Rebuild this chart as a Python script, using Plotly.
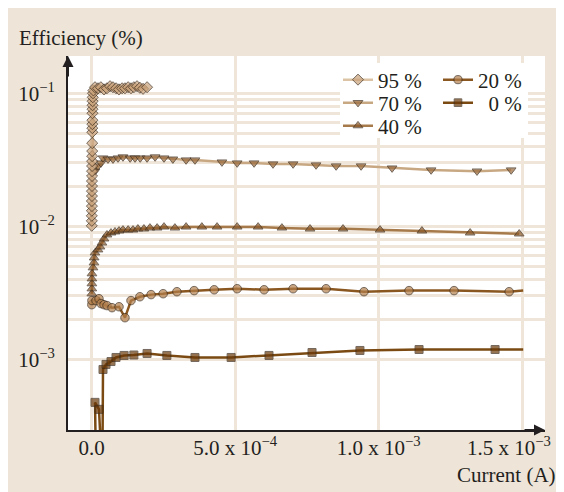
import plotly.graph_objects as go

# ---------------- data (current in A, efficiency in %) ----------------
cur_95 = [3e-7, 5e-7, 4e-7, 6e-7, 8e-7, 7e-7, 9e-7, 1.0e-6, 1.1e-6, 1.0e-6,
          1.2e-6, 1.3e-6, 1.4e-6, 1.5e-6, 1.6e-6, 1.7e-6, 1.8e-6, 2.0e-6, 2.1e-6, 2.2e-6,
          2.4e-6, 2.6e-6, 2.8e-6, 3.0e-6, 3.3e-6, 3.7e-6, 4.5e-6, 6.0e-6,
          1.15e-5, 2.2e-5, 3.2e-5, 4.3e-5, 5.3e-5, 6.4e-5, 7.4e-5, 8.5e-5, 9.5e-5, 1.06e-4,
          1.16e-4, 1.27e-4, 1.37e-4, 1.47e-4, 1.58e-4, 1.68e-4, 1.79e-4, 1.93e-4]
eff_95 = [0.0101, 0.0110, 0.0120, 0.0131, 0.0142, 0.0155, 0.0169, 0.0184, 0.0201, 0.0219,
          0.0239, 0.0260, 0.0284, 0.0309, 0.0337, 0.0368, 0.0422, 0.0510, 0.0547, 0.0586,
          0.0628, 0.0708, 0.0759, 0.0813, 0.0871, 0.0933, 0.100, 0.105,
          0.111, 0.109, 0.111, 0.107, 0.109, 0.113, 0.111, 0.109, 0.107, 0.109,
          0.109, 0.111, 0.109, 0.111, 0.113, 0.110, 0.108, 0.111]

cur_70 = [1.15e-5, 2.2e-5, 3.24e-5, 3.94e-5, 5.68e-5, 7.43e-5, 9.17e-5, 1.09e-4, 1.34e-4, 1.51e-4,
          1.69e-4, 1.93e-4, 2.21e-4, 2.52e-4, 2.83e-4, 3.29e-4, 3.60e-4, 4.54e-4, 5.07e-4, 5.66e-4,
          6.32e-4, 7.02e-4, 7.82e-4, 8.52e-4, 9.39e-4, 1.047e-3, 1.183e-3, 1.343e-3, 1.462e-3]
eff_70 = [0.0260, 0.0284, 0.0299, 0.0326, 0.0320, 0.0320, 0.0326, 0.0332, 0.0326, 0.0326,
          0.0326, 0.0326, 0.0332, 0.0326, 0.0320, 0.0315, 0.0315, 0.0304, 0.0299, 0.0299,
          0.0294, 0.0294, 0.0289, 0.0284, 0.0284, 0.0274, 0.0265, 0.0260, 0.0265]

cur_40 = [5e-7, 6e-7, 7e-7, 8e-7, 1.0e-6, 4.5e-6, 8.0e-6, 8.5e-6, 1.15e-5, 2.2e-5,
          2.89e-5, 3.59e-5, 4.29e-5, 5.33e-5, 6.73e-5, 8.12e-5, 9.52e-5, 1.09e-4, 1.27e-4, 1.44e-4,
          1.61e-4, 1.82e-4, 2.03e-4, 2.28e-4, 2.52e-4, 2.90e-4, 3.29e-4, 3.84e-4, 4.37e-4, 5.07e-4,
          5.80e-4, 6.63e-4, 7.61e-4, 8.76e-4, 1.005e-3, 1.151e-3, 1.319e-3, 1.490e-3]
eff_40 = [0.00312, 0.00340, 0.00371, 0.00404, 0.00441, 0.00489, 0.00533, 0.00581, 0.00633, 0.00667,
          0.00702, 0.00752, 0.00806, 0.00864, 0.00894, 0.00910, 0.00925, 0.00941, 0.00941, 0.00941,
          0.00958, 0.00958, 0.00974, 0.00974, 0.00991, 0.00974, 0.00991, 0.00991, 0.00991, 0.00991,
          0.00991, 0.00974, 0.00958, 0.00958, 0.00941, 0.00925, 0.00894, 0.00879]

cur_20 = [5e-7, 8e-7, 1.5e-5, 2.54e-5, 3.24e-5, 4.29e-5, 5.33e-5, 7.08e-5, 9.52e-5, 1.16e-4,
          1.37e-4, 1.68e-4, 2.07e-4, 2.49e-4, 2.97e-4, 3.57e-4, 4.27e-4, 5.07e-4, 6.01e-4, 7.02e-4,
          8.17e-4, 9.49e-4, 1.106e-3, 1.263e-3, 1.455e-3, 1.504e-3]
eff_20 = [0.00258, 0.00277, 0.00277, 0.00286, 0.00263, 0.00258, 0.00254, 0.00245, 0.00249, 0.00206,
          0.00277, 0.00296, 0.00307, 0.00312, 0.00323, 0.00329, 0.00334, 0.00340, 0.00334, 0.00340,
          0.00340, 0.00323, 0.00329, 0.00329, 0.00323, 0.00329]

cur_0 = [1.85e-5, 1.15e-5, 2.54e-5, 4.64e-5, 3.59e-5, 3.94e-5, 4.99e-5, 6.73e-5, 8.47e-5, 1.13e-4,
         1.47e-4, 1.93e-4, 2.62e-4, 3.60e-4, 4.86e-4, 6.18e-4, 7.68e-4, 9.35e-4, 1.141e-3, 1.406e-3,
         1.504e-3]
eff_0 = [5e-5, 4.76e-4, 4.22e-4, 5e-5, 5e-5, 8.41e-4, 9.18e-4, 9.65e-4, 1.035e-3, 1.072e-3,
         1.080e-3, 1.109e-3, 1.072e-3, 1.035e-3, 1.035e-3, 1.072e-3, 1.128e-3, 1.168e-3, 1.188e-3, 1.188e-3,
         1.188e-3]

series_names = ["95 %", "70 %", "40 %", "20 %", "\u00a0\u00a00 %"]
x_tickvals = [0, 5e-4, 1e-3, 1.5e-3]
x_ticktext = ["0.0", "5.0 x 10<sup>\u22124</sup>", "1.0 x 10<sup>\u22123</sup>",
              "1.5 x 10<sup>\u22123</sup>" + "\u00a0" * 5]
y_decades = [1e-3, 1e-2, 1e-1]
y_decade_text = ["10<sup>\u22123</sup>", "10<sup>\u22122</sup>", "10<sup>\u22121</sup>"]

# ---------------- styling ----------------
FONT = "Liberation Serif"
TXT = "#231f20"
BEIGE = "#eee4d8"
GRID = "#efe5d9"
EDGE = "#3b2a1a"

W, H = 564, 492
L, R, T, B = 60, 27, 48, 70
PW, PH = W - L - R, H - T - B
OFF = 8  # page offset of the figure in the screenshot


def px_x(p):
    return (p - OFF - L) / PW


def px_y(p):
    return (H - B - (p - OFF)) / PH


X_RANGE = [-8.26e-5, 1.580e-3]
Y_RANGE = [-3.53, -0.72]

fig = go.Figure()

styles = [
    (series_names[4], cur_0, eff_0, "square", "#6b3a0a", "#7a4a12", 8, "legend5"),
    (series_names[3], cur_20, eff_20, "circle", "#b3804d", "#8a5720", 8.5, "legend4"),
    (series_names[2], cur_40, eff_40, "triangle-up", "#8c5a2a", "#a67a4a", 8.5, "legend3"),
    (series_names[1], cur_70, eff_70, "triangle-down", "#9b6b3c", "#c8a883", 8.5, "legend2"),
    (series_names[0], cur_95, eff_95, "diamond", "#c9a27a", "#dcc3a5", 8.5, "legend"),
]

for name, xs, ys, sym, fill, lc, sz, lg in styles:
    sizes = [sz] * len(xs)
    if name in (series_names[3], series_names[4]):
        sizes[-1] = 0
    fig.add_trace(go.Scatter(
        x=xs, y=ys, mode="lines+markers", name=name, legend=lg,
        line=dict(color=lc, width=2.5),
        marker=dict(symbol=sym, size=sizes, color=fill, line=dict(color=EDGE, width=1)),
    ))

# y gridlines at 1..9 of each decade, labels only on decades
y_tickvals, y_ticktext = [], []
dec_r = [round(x, 12) for x in y_decades]
for d in [1e-4, 1e-3, 1e-2]:
    for k in range(1, 10):
        v = round(k * d * 10, 12)
        if v < 2.9e-4:
            continue
        y_tickvals.append(v)
        y_ticktext.append(y_decade_text[dec_r.index(v)] if v in dec_r else "")
y_tickvals.append(1e-1)
y_ticktext.append(y_decade_text[2])

fig.update_layout(
    width=W, height=H,
    margin=dict(l=L, r=R, t=T, b=B, pad=0, autoexpand=False),
    paper_bgcolor=BEIGE, plot_bgcolor="white",
    font=dict(family=FONT, size=21, color=TXT),
    showlegend=True,
    xaxis=dict(range=X_RANGE, tickvals=x_tickvals, ticktext=x_ticktext, automargin=False,
               showgrid=True, gridcolor=GRID, gridwidth=2.5, zeroline=False,
               showline=True, linecolor=TXT, linewidth=2, ticks="",
               tickfont=dict(family=FONT, size=21, color=TXT), ticklabelstandoff=-2,
               ticklabeloverflow="allow"),
    yaxis=dict(type="log", range=Y_RANGE, tickvals=y_tickvals, ticktext=y_ticktext, automargin=False,
               showgrid=True, gridcolor=GRID, gridwidth=2.5, zeroline=False,
               showline=True, linecolor=TXT, linewidth=2, ticks="",
               tickfont=dict(family=FONT, size=21, color=TXT), ticklabelstandoff=7),
)

leg_common = dict(xanchor="left", yanchor="middle", bgcolor="rgba(0,0,0,0)",
                  font=dict(family=FONT, size=21, color=TXT), borderwidth=0, itemwidth=30)
fig.update_layout(
    legend=dict(x=px_x(338), y=px_y(80), **leg_common),
    legend2=dict(x=px_x(338), y=px_y(103), **leg_common),
    legend3=dict(x=px_x(338), y=px_y(126), **leg_common),
    legend4=dict(x=px_x(438), y=px_y(80), **leg_common),
    legend5=dict(x=px_x(438), y=px_y(103), **leg_common),
)

# white box behind the legend (covers gridlines); positions in axis units
xpp = (X_RANGE[1] - X_RANGE[0]) / PW
ypp = (Y_RANGE[1] - Y_RANGE[0]) / PH


def ax_x(p):
    return X_RANGE[0] + (p - OFF - L) * xpp


def ax_y(p):
    return 10 ** (Y_RANGE[1] - (p - OFF - T) * ypp)


fig.add_shape(type="rect", xref="x", yref="y", x0=ax_x(340), x1=ax_x(528),
              y0=ax_y(138), y1=ax_y(63), fillcolor="white", line=dict(width=0), layer="between")

annotations = [
    dict(text="Efficiency (%)", xref="paper", yref="paper", x=px_x(17), y=px_y(38),
         xanchor="left", yanchor="middle", showarrow=False, font=dict(family=FONT, size=21, color=TXT)),
    dict(text="Current (A)", xref="paper", yref="paper", x=px_x(558), y=px_y(475),
         xanchor="right", yanchor="middle", showarrow=False, font=dict(family=FONT, size=21, color=TXT)),
    dict(text="", xref="x domain", yref="y domain", x=0, y=1, ax=0, ay=22, axref="pixel", ayref="pixel",
         showarrow=True, arrowhead=2, arrowsize=1.1, arrowwidth=2, arrowcolor=TXT, standoff=0),
    dict(text="", xref="x domain", yref="y domain", x=1, y=0, ax=-22, ay=0, axref="pixel", ayref="pixel",
         showarrow=True, arrowhead=2, arrowsize=1.1, arrowwidth=2, arrowcolor=TXT, standoff=0),
]
fig.update_layout(annotations=annotations)

fig.write_html("out.html")
